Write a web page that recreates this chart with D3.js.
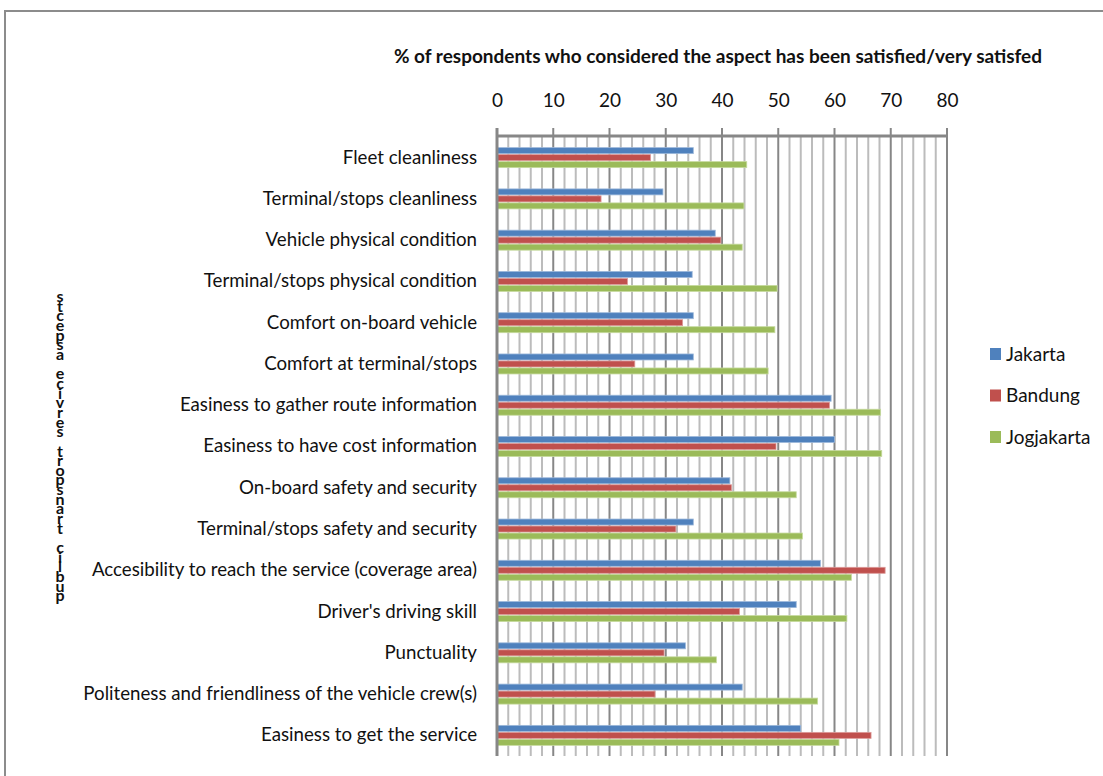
<!DOCTYPE html>
<html>
<head>
<meta charset="utf-8">
<script src="https://cdn.jsdelivr.net/npm/d3@7"></script>
<style>
  html, body { margin: 0; padding: 0; background: #fff; }
  svg { display: block; }
  text { font-family: Lato, "Open Sans", sans-serif; fill: #111; }
</style>
</head>
<body>
<div id="chart"></div>
<script>
// Survey aspects, top to bottom
const categories = [
  "Fleet cleanliness",
  "Terminal/stops cleanliness",
  "Vehicle physical condition",
  "Terminal/stops physical condition",
  "Comfort on-board vehicle",
  "Comfort at terminal/stops",
  "Easiness to gather route information",
  "Easiness to have cost information",
  "On-board safety and security",
  "Terminal/stops safety and security",
  "Accesibility to reach the service (coverage area)",
  "Driver's driving skill",
  "Punctuality",
  "Politeness and friendliness of the vehicle crew(s)",
  "Easiness to get the service"
];

// % satisfied / very satisfied per city
const jakarta    = [34.9, 29.5, 38.8, 34.7, 34.9, 34.9, 59.4, 60.0, 41.4, 34.9, 57.5, 53.2, 33.5, 43.6, 54.0];
const bandung    = [27.3, 18.5, 39.8, 23.2, 33.0, 24.5, 59.1, 49.6, 41.7, 31.8, 69.0, 43.1, 29.7, 28.1, 66.5];
const jogjakarta = [44.4, 43.9, 43.6, 49.8, 49.4, 48.2, 68.2, 68.4, 53.2, 54.3, 63.0, 62.2, 39.0, 57.0, 60.8];

const seriesNames = ["Jakarta", "Bandung", "Jogjakarta"];
const seriesColors = ["#4F81BD", "#C0504D", "#9BBB59"];
const seriesEdges = ["#9db8da", "#dc9b99", "#c6da9f"];
const xTicks = [0, 10, 20, 30, 40, 50, 60, 70, 80];

const chartTitle = "% of respondents who considered the aspect  has been satisfied/very satisfed";
const yTitle = "public transport service aspects";

const W = 1103, H = 776;
const svg = d3.select("#chart").append("svg").attr("width", W).attr("height", H);

// outer chart frame
svg.append("rect")
  .attr("x", 5).attr("y", 11).attr("width", W + 10).attr("height", H + 10)
  .attr("fill", "none").attr("stroke", "#8c8c8c").attr("stroke-width", 2);

const plot = { left: 497, right: 947, top: 136, bottom: 756 };

const x = d3.scaleLinear().domain([0, 80]).range([plot.left, plot.right]);
const y = d3.scaleBand().domain(categories).range([137, 756]);

const series = [jakarta, bandung, jogjakarta];
const barPitch = 7, barH = 6;

// minor gridlines every 2 units
const minor = d3.range(0, 81, 2).filter(v => v % 10 !== 0);
svg.append("g").selectAll("line").data(minor).join("line")
  .attr("x1", d => x(d)).attr("x2", d => x(d))
  .attr("y1", plot.top).attr("y2", plot.bottom)
  .attr("stroke", "#bcbcbc").attr("stroke-width", 2);

// major gridlines with outward tick marks
svg.append("g").selectAll("line").data(xTicks).join("line")
  .attr("x1", d => x(d)).attr("x2", d => x(d))
  .attr("y1", plot.top - 8).attr("y2", plot.bottom)
  .attr("stroke", "#878787").attr("stroke-width", 2);

// bars
const groups = svg.append("g");
series.forEach((vals, si) => {
  groups.append("g").selectAll("rect").data(vals).join("rect")
    .attr("x", x(0))
    .attr("y", (d, i) => y(categories[i]) + y.bandwidth() / 2 + (si - 1) * barPitch - barH / 2)
    .attr("width", d => x(d) - x(0))
    .attr("height", barH)
    .attr("fill", seriesColors[si])
    .attr("stroke", seriesEdges[si])
    .attr("stroke-width", 0.8);
});

// axis lines
svg.append("line")
  .attr("x1", plot.left).attr("x2", plot.right + 1)
  .attr("y1", plot.top).attr("y2", plot.top)
  .attr("stroke", "#878787").attr("stroke-width", 3);
svg.append("line")
  .attr("x1", plot.left).attr("x2", plot.left)
  .attr("y1", plot.top - 8).attr("y2", plot.bottom)
  .attr("stroke", "#878787").attr("stroke-width", 3);

// top value axis labels
const xAxis = d3.axisTop(x).tickValues(xTicks).tickSize(0).tickPadding(0);
const gx = svg.append("g").attr("transform", `translate(0,${plot.top})`).call(xAxis);
gx.select(".domain").remove();
gx.selectAll("text")
  .attr("y", -36).attr("dy", "0.35em")
  .style("font-size", "19px").style("font-family", "Lato, sans-serif").attr("fill", "#111");

// category labels
const yAxis = d3.axisLeft(y).tickSize(0).tickPadding(0);
const gy = svg.append("g").attr("transform", `translate(${plot.left - 20},0)`).call(yAxis);
gy.select(".domain").remove();
gy.selectAll("text")
  .style("font-size", "18.7px").style("font-family", "Lato, sans-serif")
  .attr("fill", "#111");

// chart title
svg.append("text")
  .attr("x", 718).attr("y", 63)
  .attr("text-anchor", "middle")
  .style("font-size", "19px").style("font-weight", "bold")
  .text(chartTitle);

// vertical axis title: stacked upright characters, reading upward
const chars = Array.from(yTitle).reverse();
svg.append("g").selectAll("text").data(chars).join("text")
  .attr("x", 60)
  .attr("y", (d, i) => 298 + i * 9.65)
  .attr("text-anchor", "middle")
  .attr("dominant-baseline", "middle")
  .style("font-size", "16px").style("font-weight", "bold")
  .text(d => d);

// legend
const legend = svg.append("g");
seriesNames.forEach((name, i) => {
  const cy = 354 + i * 41.5;
  legend.append("rect")
    .attr("x", 990).attr("y", cy - 6).attr("width", 11).attr("height", 12)
    .attr("fill", seriesColors[i]);
  legend.append("text")
    .attr("x", 1006).attr("y", cy).attr("dy", "0.35em")
    .style("font-size", "19px")
    .text(name);
});
</script>
</body>
</html>
